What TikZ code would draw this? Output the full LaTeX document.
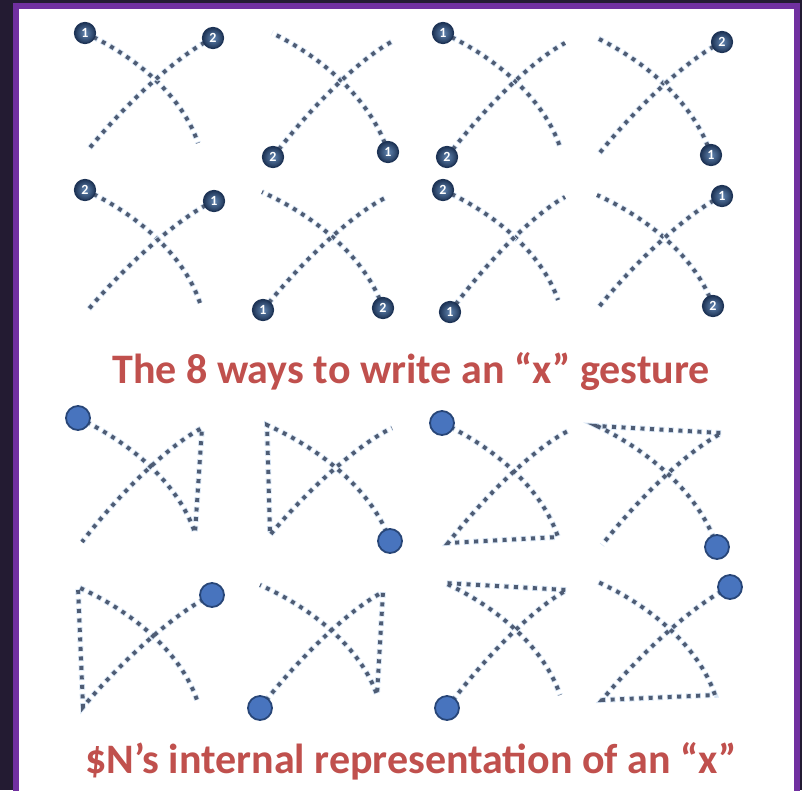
\documentclass[tikz,border=0pt]{standalone}
\usepackage{fontspec}
\setmainfont{Carlito}
\usetikzlibrary{calc}
\definecolor{outerbg}{RGB}{35,27,50}
\definecolor{frame}{RGB}{112,48,160}
\definecolor{titlec}{RGB}{192,80,77}
\definecolor{dotc}{RGB}{78,92,116}
\definecolor{haloc}{RGB}{214,228,244}
\definecolor{numin}{RGB}{98,134,178}
\definecolor{numout}{RGB}{30,52,86}
\definecolor{bigfill}{RGB}{72,116,190}
\definecolor{bigdraw}{RGB}{40,70,120}
\newcommand\defglyph[9]{%
 \coordinate (#1tl) at (#2,#3);
 \coordinate (#1tr) at (#4,#5);
 \coordinate (#1bl) at (#6,#7);
 \coordinate (#1br) at (#8,#9);
 \coordinate (#1a1) at ({#2+0.444*(#8-#2)},{#3+0.21*(#9-#3)});
 \coordinate (#1a2) at ({#2+0.861*(#8-#2)},{#3+0.571*(#9-#3)});
 \coordinate (#1b1) at ({#4+0.269*(#6-#4)},{#5+0.145*(#7-#5)});
 \coordinate (#1b2) at ({#4+0.689*(#6-#4)},{#5+0.573*(#7-#5)});
}
\tikzset{
 dotline/.style={draw=dotc, line width=3.9, dash pattern=on 3.9 off 5.6,
   preaction={draw=haloc, line width=5.6, dash pattern=on 5.5 off 4, dash phase=0.8}},
 numc/.style={circle, minimum size=21, inner sep=0, draw=numout, line width=1.2,
   inner color=numin, outer color=numout, text=white,
   font=\fontsize{14}{14}\selectfont\bfseries},
 bigc/.style={circle, minimum size=24, inner sep=0, draw=bigdraw, line width=1.8, fill=bigfill},
 title/.style={text=titlec, anchor=base, font=\fontsize{42}{48}\selectfont\bfseries}
}
\begin{document}
\begin{tikzpicture}[x=1pt,y=-1pt]
\useasboundingbox (0,0) rectangle (802,790);
\clip (0,0) rectangle (802,790);
\fill[outerbg] (0,0) rectangle (802,790);
\fill[frame] (13,3) rectangle (800,800);
\fill[white] (19,9) rectangle (794,800);
% ---- row 1
\defglyph{g1}{85}{33}{213}{38}{88}{150}{198}{143}
\defglyph{g2}{272}{33}{393}{41}{273}{157}{388}{152}
\defglyph{g3}{443}{33}{565}{43}{447}{157}{560}{147}
\defglyph{g4}{597}{38}{722}{42}{598}{155}{711}{155}
% ---- row 2
\defglyph{g5}{85}{190}{214}{201}{88}{310}{200}{303}
\defglyph{g6}{262}{192}{385}{198}{263}{310}{383}{308}
\defglyph{g7}{443}{190}{565}{197}{450}{312}{558}{300}
\defglyph{g8}{597}{195}{722}{196}{598}{308}{713}{306}
% ---- row 3
\defglyph{g9}{78}{418}{202}{428}{82}{542}{195}{533}
\defglyph{g10}{267}{425}{392}{428}{270}{535}{390}{541}
\defglyph{g11}{442}{423}{568}{431}{448}{543}{558}{537}
\defglyph{g12}{597}{426}{722}{433}{602}{545}{717}{547}
% ---- row 4
\defglyph{g13}{78}{587}{212}{595}{83}{707}{197}{700}
\defglyph{g14}{260}{585}{383}{592}{260}{708}{377}{695}
\defglyph{g15}{445}{583}{567}{590}{447}{708}{560}{695}
\defglyph{g16}{598}{582}{730}{587}{602}{700}{715}{695}
% strokes rows 1-2
\foreach \g in {g1,g3,g5,g7}{
 \draw[dotline] (\g tl) .. controls (\g a1) and (\g a2) .. (\g br);
}
\foreach \g in {g2,g4,g6,g8}{
 \draw[dotline] (\g br) .. controls (\g a2) and (\g a1) .. (\g tl);
}
\foreach \g in {g1,g4,g5,g8}{
 \draw[dotline] (\g tr) .. controls (\g b1) and (\g b2) .. (\g bl);
}
\foreach \g in {g2,g3,g6,g7}{
 \draw[dotline] (\g bl) .. controls (\g b2) and (\g b1) .. (\g tr);
}
% numbered start points
\node[numc] (n1a) at (g1tl) {1};
\node[numc] (n1b) at (g1tr) {2};
\node[numc] (n2a) at (g2br) {1};
\node[numc] (n2b) at (g2bl) {2};
\node[numc] (n3a) at (g3tl) {1};
\node[numc] (n3b) at (g3bl) {2};
\node[numc] (n4a) at (g4br) {1};
\node[numc] (n4b) at (g4tr) {2};
\node[numc] (n5a) at (g5tr) {1};
\node[numc] (n5b) at (g5tl) {2};
\node[numc] (n6a) at (g6bl) {1};
\node[numc] (n6b) at (g6br) {2};
\node[numc] (n7a) at (g7bl) {1};
\node[numc] (n7b) at (g7tl) {2};
\node[numc] (n8a) at (g8tr) {1};
\node[numc] (n8b) at (g8br) {2};
% ---- $N representations (rows 3-4)
\draw[dotline] (g9tl) .. controls (g9a1) and (g9a2) .. (g9br) -- (g9tr) .. controls (g9b1) and (g9b2) .. (g9bl);
\draw[dotline] (g10br) .. controls (g10a2) and (g10a1) .. (g10tl) -- (g10bl) .. controls (g10b2) and (g10b1) .. (g10tr);
\draw[dotline] (g11tl) .. controls (g11a1) and (g11a2) .. (g11br) -- (g11bl) .. controls (g11b2) and (g11b1) .. (g11tr);
\draw[dotline] (g12br) .. controls (g12a2) and (g12a1) .. (g12tl) -- (g12tr) .. controls (g12b1) and (g12b2) .. (g12bl);
\draw[dotline] (g13tr) .. controls (g13b1) and (g13b2) .. (g13bl) -- (g13tl) .. controls (g13a1) and (g13a2) .. (g13br);
\draw[dotline] (g14bl) .. controls (g14b2) and (g14b1) .. (g14tr) -- (g14br) .. controls (g14a2) and (g14a1) .. (g14tl);
\draw[dotline] (g15bl) .. controls (g15b2) and (g15b1) .. (g15tr) -- (g15tl) .. controls (g15a1) and (g15a2) .. (g15br);
\draw[dotline] (g16tr) .. controls (g16b1) and (g16b2) .. (g16bl) -- (g16br) .. controls (g16a2) and (g16a1) .. (g16tl);
\node[bigc] (s9) at (g9tl) {};
\node[bigc] (s10) at (g10br) {};
\node[bigc] (s11) at (g11tl) {};
\node[bigc] (s12) at (g12br) {};
\node[bigc] (s13) at (g13tr) {};
\node[bigc] (s14) at (g14bl) {};
\node[bigc] (s15) at (g15bl) {};
\node[bigc] (s16) at (g16tr) {};
% ---- titles
\node[title] (t1) at (411,383) {The 8 ways to write an “x” gesture};
\node[title] (t2) at (411,773) {\$N’s internal representation of an “x”};
\end{tikzpicture}
\end{document}
